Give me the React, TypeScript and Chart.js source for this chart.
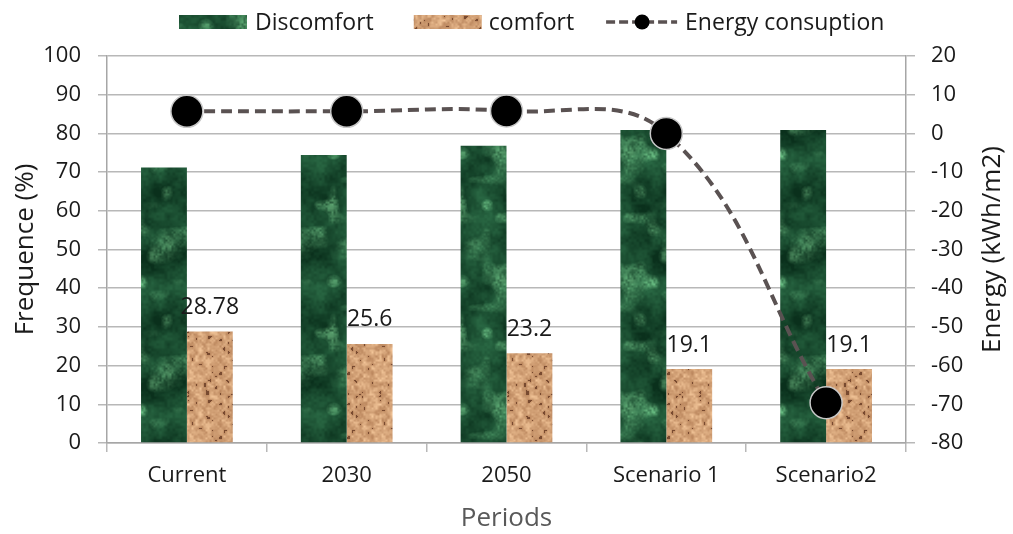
import React, { useEffect, useRef } from 'react';
import { Chart, registerables } from 'chart.js';

Chart.register(...registerables);

const categories = ['Current', '2030', '2050', 'Scenario 1', 'Scenario2'];
const discomfort = [71.22, 74.4, 76.8, 80.9, 80.9];
const comfort = [28.78, 25.6, 23.2, 19.1, 19.1];
const comfortLabels = ['28.78', '25.6', '23.2', '19.1', '19.1'];
const energy = [5.7, 5.7, 5.8, 0, -69.6];

const leftMin = 0;
const leftMax = 100;
const rightMin = -80;
const rightMax = 20;
const tickStep = 10;

const rightTitle = 'Energy (kWh/m2)';

const FONT = '"Open Sans", "DejaVu Sans", sans-serif';
const GRID = '#b8b8b8';
const AXIS = '#a6a6a6';
const TXT = '#1a1a1a';
const LINE = '#5a5252';

function hash(n: number): number {
  const s = Math.sin(n * 127.1 + 311.7) * 43758.5453;
  return s - Math.floor(s);
}

function periodicNoise(size: number, cells: number, seed: number) {
  const g: number[] = [];
  for (let i = 0; i < cells * cells; i++) g.push(hash(i * 1.37 + seed * 97.3));
  return (x: number, y: number) => {
    const gx = (x / size) * cells;
    const gy = (y / size) * cells;
    const x0 = Math.floor(gx) % cells;
    const y0 = Math.floor(gy) % cells;
    const x1 = (x0 + 1) % cells;
    const y1 = (y0 + 1) % cells;
    let fx = gx - Math.floor(gx);
    let fy = gy - Math.floor(gy);
    fx = fx * fx * (3 - 2 * fx);
    fy = fy * fy * (3 - 2 * fy);
    const a = g[y0 * cells + x0];
    const b = g[y0 * cells + x1];
    const c = g[y1 * cells + x0];
    const d = g[y1 * cells + x1];
    return a + (b - a) * fx + (c - a) * fy + (a - b - c + d) * fx * fy;
  };
}

function makeGreen(ctx: CanvasRenderingContext2D): CanvasPattern | string {
  const size = 128;
  const off = document.createElement('canvas');
  off.width = size;
  off.height = size;
  const oc = off.getContext('2d');
  if (!oc) return '#1e5a3a';
  const img = oc.createImageData(size, size);
  const n1 = periodicNoise(size, 4, 1);
  const n2 = periodicNoise(size, 8, 2);
  const n3 = periodicNoise(size, 16, 3);
  const n4 = periodicNoise(size, 48, 7);
  const nc = periodicNoise(size, 10, 4);
  const nf = periodicNoise(size, 64, 8);
  for (let y = 0; y < size; y++) {
    for (let x = 0; x < size; x++) {
      const v = 0.4 * n1(x, y) + 0.25 * n2(x, y) + 0.2 * n3(x, y) + 0.15 * n4(x, y);
      const t = Math.min(1, Math.max(0, (v - 0.25) * 1.8));
      const cl = Math.max(0, nc(x, y) - 0.55) * 2.2 * (0.5 + nf(x, y));
      const R = 10 + (40 - 10) * t + cl * 55;
      const G = 48 + (102 - 48) * t + cl * 75;
      const B = 28 + (66 - 28) * t + cl * 55;
      const i = (y * size + x) * 4;
      img.data[i] = R;
      img.data[i + 1] = G;
      img.data[i + 2] = B;
      img.data[i + 3] = 255;
    }
  }
  oc.putImageData(img, 0, 0);
  return ctx.createPattern(off, 'repeat') || '#1e5a3a';
}

function makeTan(ctx: CanvasRenderingContext2D): CanvasPattern | string {
  const size = 64;
  const off = document.createElement('canvas');
  off.width = size;
  off.height = size;
  const oc = off.getContext('2d');
  if (!oc) return '#d49f76';
  const img = oc.createImageData(size, size);
  const n1 = periodicNoise(size, 16, 5);
  const n2 = periodicNoise(size, 32, 6);
  for (let y = 0; y < size; y++) {
    for (let x = 0; x < size; x++) {
      const v = 0.55 * n1(x, y) + 0.45 * n2(x, y);
      let R = 172 + (245 - 172) * v;
      let G = 118 + (200 - 118) * v;
      let B = 78 + (155 - 78) * v;
      if (v < 0.22) {
        R = 120; G = 74; B = 48;
      }
      const i = (y * size + x) * 4;
      img.data[i] = R;
      img.data[i + 1] = G;
      img.data[i + 2] = B;
      img.data[i + 3] = 255;
    }
  }
  oc.putImageData(img, 0, 0);
  return ctx.createPattern(off, 'repeat') || '#d49f76';
}

const barLabelPlugin = {
  id: 'barLabels',
  afterDatasetsDraw(chart: any) {
    const meta = chart.getDatasetMeta(1);
    const ctx = chart.ctx;
    ctx.save();
    ctx.font = `23px ${FONT}`;
    ctx.fillStyle = TXT;
    ctx.textAlign = 'center';
    ctx.textBaseline = 'alphabetic';
    meta.data.forEach((el: any, i: number) => {
      ctx.fillText(comfortLabels[i], el.x, el.y - 17.5);
    });
    ctx.restore();
  },
};

const rightTitlePlugin = {
  id: 'rightTitle',
  afterDraw(chart: any) {
    const ctx = chart.ctx;
    const area = chart.chartArea;
    ctx.save();
    ctx.translate(993, (area.top + area.bottom) / 2);
    ctx.rotate(-Math.PI / 2);
    ctx.font = `26px ${FONT}`;
    ctx.fillStyle = TXT;
    ctx.textAlign = 'center';
    ctx.textBaseline = 'middle';
    ctx.fillText(rightTitle, 0, 0);
    ctx.restore();
  },
};

const legendPlugin = {
  id: 'customLegend',
  afterDraw(chart: any) {
    const ctx = chart.ctx;
    const ds = chart.data.datasets;
    ctx.save();
    ctx.font = `23px ${FONT}`;
    ctx.textBaseline = 'alphabetic';
    const cy = 22;
    const base = 30;
    let x = 179;
    ctx.fillStyle = ds[0].backgroundColor;
    ctx.fillRect(x, cy - 7, 68, 14);
    x += 76;
    ctx.fillStyle = TXT;
    ctx.fillText(ds[0].label, x, base);
    x += ctx.measureText(ds[0].label).width + 40;
    ctx.fillStyle = ds[1].backgroundColor;
    ctx.fillRect(x, cy - 7, 68, 14);
    x += 75;
    ctx.fillStyle = TXT;
    ctx.fillText(ds[1].label, x, base);
    x += ctx.measureText(ds[1].label).width + 32;
    ctx.strokeStyle = ds[2].borderColor;
    ctx.lineWidth = 3.5;
    ctx.setLineDash([9, 4]);
    ctx.beginPath();
    ctx.moveTo(x, cy);
    ctx.lineTo(x + 71, cy);
    ctx.stroke();
    ctx.setLineDash([]);
    ctx.fillStyle = '#000';
    ctx.beginPath();
    ctx.arc(x + 36, cy, 7.5, 0, Math.PI * 2);
    ctx.fill();
    x += 79;
    ctx.fillStyle = TXT;
    ctx.fillText(ds[2].label, x, base);
    ctx.restore();
  },
};

export default function App() {
  const ref = useRef<HTMLCanvasElement | null>(null);

  useEffect(() => {
    const canvas = ref.current;
    if (!canvas) return;
    const ctx = canvas.getContext('2d');
    if (!ctx) return;
    const green = makeGreen(ctx);
    const tan = makeTan(ctx);

    const tickFont = { family: FONT, size: 22 };
    const titleFont = { family: FONT, size: 26, lineHeight: 1 };

    const chart = new Chart(ctx, {
      type: 'bar',
      data: {
        labels: categories,
        datasets: [
          {
            type: 'bar',
            label: 'Discomfort',
            data: discomfort,
            backgroundColor: green as any,
            borderWidth: 0,
            yAxisID: 'y',
            order: 2,
            categoryPercentage: 0.574,
            barPercentage: 1,
          },
          {
            type: 'bar',
            label: 'comfort',
            data: comfort,
            backgroundColor: tan as any,
            borderWidth: 0,
            yAxisID: 'y',
            order: 2,
            categoryPercentage: 0.574,
            barPercentage: 1,
          },
          {
            type: 'line',
            label: 'Energy consuption',
            data: energy,
            yAxisID: 'y1',
            order: 0,
            borderColor: LINE,
            borderWidth: 4,
            borderDash: [11, 6],
            tension: 0.4,
            fill: false,
            pointRadius: 16,
            pointBackgroundColor: '#000',
            pointBorderColor: '#c8c8c8',
            pointBorderWidth: 1.5,
          } as any,
        ],
      },
      options: {
        responsive: false,
        animation: false,
        events: [],
        layout: { padding: { top: 56, left: 0, right: 0, bottom: 0 } },
        plugins: {
          legend: { display: false },
          tooltip: { enabled: false },
        },
        scales: {
          x: {
            offset: true,
            grid: {
              display: true,
              drawOnChartArea: false,
              drawTicks: true,
              tickLength: 9,
              offset: true,
              color: GRID,
              lineWidth: 1.5,
            },
            border: { display: true, color: AXIS, width: 1.5 },
            ticks: { font: tickFont, color: TXT, padding: 11, maxRotation: 0, autoSkip: false },
            title: {
              display: true,
              text: 'Periods',
              font: titleFont,
              color: '#595959',
              padding: { top: 0, bottom: 2 },
            },
            afterFit: (s: any) => {
              s.height = 91;
            },
          },
          y: {
            position: 'left',
            min: leftMin,
            max: leftMax,
            ticks: { stepSize: tickStep, font: tickFont, color: TXT, padding: 17 },
            grid: { color: GRID, lineWidth: 1.5, tickLength: 9 },
            border: { display: true, color: AXIS, width: 1.5 },
            title: {
              display: true,
              text: 'Frequence (%)',
              font: titleFont,
              color: TXT,
              padding: { top: 13, bottom: 0 },
            },
            afterFit: (s: any) => {
              s.width = 107;
            },
          },
          y1: {
            position: 'right',
            min: rightMin,
            max: rightMax,
            ticks: { stepSize: tickStep, font: tickFont, color: TXT, padding: 16 },
            grid: { drawOnChartArea: false, color: GRID, lineWidth: 1.5, tickLength: 9 },
            border: { display: true, color: AXIS, width: 1.5 },
            title: { display: false },
            afterFit: (s: any) => {
              s.width = 107;
            },
          },
        },
      } as any,
      plugins: [barLabelPlugin, legendPlugin, rightTitlePlugin],
    });

    return () => {
      chart.destroy();
    };
  }, []);

  return (
    <div style={{ position: 'absolute', left: 0, top: 0, width: 1013, height: 534, background: '#fff' }}>
      <canvas ref={ref} width={1013} height={534} style={{ width: 1013, height: 534, display: 'block' }} />
    </div>
  );
}
